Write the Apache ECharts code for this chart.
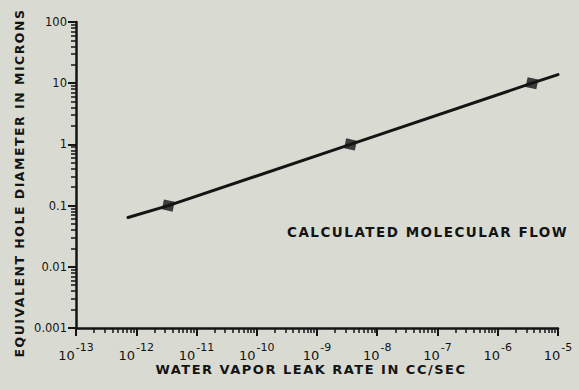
<!DOCTYPE html>
<html>
<head>
<meta charset="utf-8">
<script src="https://cdn.jsdelivr.net/npm/echarts@6/dist/echarts.min.js"></script>
<style>
  html, body { margin: 0; padding: 0; background: #d9dbd2; }
  #chart { width: 579px; height: 390px; }
  /* titles and the annotation are set in widely spaced bold lettering */
  #chart svg text[style*="bold"] { letter-spacing: 1.5px; }
</style>
</head>
<body>
<div id="chart"></div>
<script>
// Water vapor leak rate (cc/sec) vs equivalent hole diameter (microns)
const leakRate      = [7.3e-13, 3.4e-12, 3.6e-9, 3.7e-6, 1e-5];
const holeDiameter  = [0.064,   0.1,     1,      10,     13.8];

// Plotted reference points on the calculated line
const markerRate     = [3.4e-12, 3.6e-9, 3.7e-6];
const markerDiameter = [0.1,     1,      10];

// Axis decades and tick labels
const xExponents  = [-13, -12, -11, -10, -9, -8, -7, -6, -5];
const yTickValues = [0.001, 0.01, 0.1, 1, 10, 100];
const yTickLabels = ['0.001', '0.01', '0.1', '1', '10', '100'];

const annotation = 'CALCULATED MOLECULAR FLOW';
const xTitle = 'WATER VAPOR LEAK RATE IN CC/SEC';
const yTitle = 'EQUIVALENT HOLE DIAMETER IN MICRONS';

// Minor tick positions (2..9 within each decade), in log10 units
function minorTicks(lo, hi) {
  const out = [];
  for (let e = lo; e < hi; e++) {
    for (let m = 2; m <= 9; m++) out.push(e + Math.log10(m));
  }
  return out;
}

const ink = '#141414';
const font = 'DejaVu Sans';

const chart = echarts.init(document.getElementById('chart'), null, { renderer: 'svg' });

chart.setOption({
  backgroundColor: '#d9dbd2',
  animation: false,
  grid: { left: 76, right: 21, top: 22, bottom: 62, containLabel: false },
  xAxis: [
    {
      type: 'log', logBase: 10, min: 1e-13, max: 1e-5, interval: 1,
      position: 'bottom',
      name: xTitle, nameLocation: 'middle', nameGap: 35, nameMoveOverlap: false,
      nameTextStyle: { color: ink, fontFamily: font, fontWeight: 'bold', fontSize: 13, padding: [0, 12, 0, 0] },
      axisLine: { show: true, onZero: false, lineStyle: { color: ink, width: 2.5 } },
      axisTick: { show: true, inside: false, length: 8, lineStyle: { color: ink, width: 2 } },
      splitLine: { show: false },
      minorTick: { show: false },
      axisLabel: {
        margin: 10,
        formatter: v => {
          const e = Math.round(Math.log10(v));
          return xExponents.includes(e) ? '{b|10}{s|' + e + '}' : '';
        },
        rich: {
          b: { fontFamily: font, fontSize: 13, color: ink, padding: [11, 0, 0, 0] },
          s: { fontFamily: font, fontSize: 11, color: ink, padding: [0, 0, 6, 1] }
        }
      }
    },
    {
      type: 'value', min: -13, max: -5, position: 'bottom',
      axisLine: { show: false, onZero: false },
      axisLabel: { show: false },
      splitLine: { show: false },
      axisTick: { show: true, inside: false, length: 5, customValues: minorTicks(-13, -5),
                  lineStyle: { color: ink, width: 1.5 } }
    }
  ],
  yAxis: [
    {
      type: 'log', logBase: 10, min: 0.001, max: 100, interval: 1,
      position: 'left',
      name: yTitle, nameLocation: 'middle', nameGap: 50, nameRotate: 90, nameMoveOverlap: false,
      nameTextStyle: { color: ink, fontFamily: font, fontWeight: 'bold', fontSize: 12.5, padding: [0, 16, 0, 0] },
      axisLine: { show: true, onZero: false, lineStyle: { color: ink, width: 2.5 } },
      axisTick: { show: true, inside: false, length: 8, lineStyle: { color: ink, width: 2 } },
      splitLine: { show: false },
      axisLabel: {
        margin: 9, color: ink, fontFamily: font, fontSize: 11.5,
        formatter: v => {
          const i = yTickValues.findIndex(t => Math.abs(Math.log10(t) - Math.log10(v)) < 1e-6);
          return i >= 0 ? yTickLabels[i] : '';
        }
      }
    },
    {
      type: 'value', min: -3, max: 2, position: 'left',
      axisLine: { show: false, onZero: false },
      axisLabel: { show: false },
      splitLine: { show: false },
      axisTick: { show: true, inside: false, length: 5, customValues: minorTicks(-3, 2),
                  lineStyle: { color: ink, width: 1.5 } }
    }
  ],
  graphic: [
    {
      type: 'text', left: 287, top: 225,
      style: { text: annotation, fill: ink, font: 'bold 13.5px "DejaVu Sans"' }
    }
  ],
  series: [
    {
      type: 'line', xAxisIndex: 0, yAxisIndex: 0,
      data: leakRate.map((x, i) => [x, holeDiameter[i]]),
      showSymbol: false, clip: false,
      lineStyle: { color: ink, width: 3, cap: 'round' }
    },
    {
      type: 'scatter', xAxisIndex: 0, yAxisIndex: 0,
      data: markerRate.map((x, i) => [x, markerDiameter[i]]),
      symbol: 'rect', symbolSize: [11, 10], symbolRotate: -12,
      itemStyle: { color: ink }
    }
  ]
});
</script>
</body>
</html>
